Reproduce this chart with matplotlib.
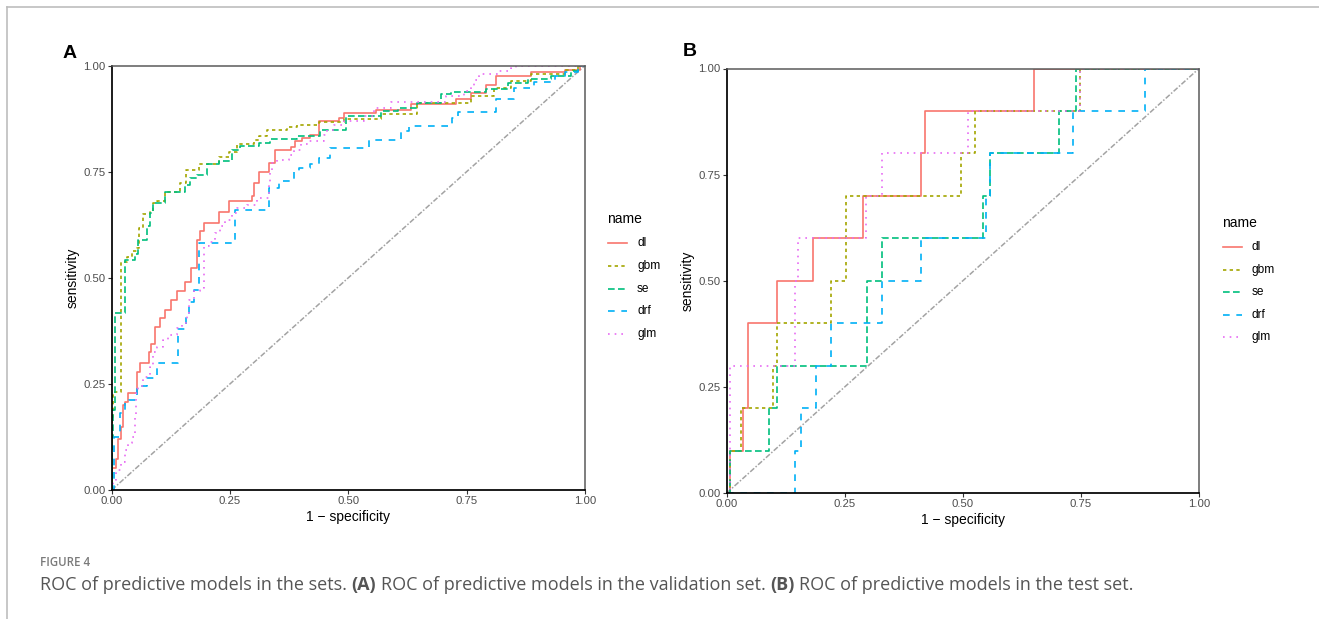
import matplotlib
matplotlib.use('Agg')
import matplotlib.pyplot as plt
from matplotlib.lines import Line2D

W, H, DPI = 1319, 619, 100

# ---------------- data ----------------
models = ['dl', 'gbm', 'se', 'drf', 'glm']
colors = {'dl': '#F8766D', 'gbm': '#A3A500', 'se': '#00BF7D', 'drf': '#00B0F6', 'glm': '#E76BF3'}
dash_styles = {'dl': None, 'gbm': (2, 2), 'se': (4, 2), 'drf': (4, 4), 'glm': (1, 3)}
tick_values = [0, 0.25, 0.5, 0.75, 1.0]
tick_labels = ['0.00', '0.25', '0.50', '0.75', '1.00']

# Panel A (validation set)
A_dl_fpr = [0, 0, 0.009, 0.014, 0.019, 0.023, 0.028, 0.035, 0.054, 0.060, 0.078, 0.083, 0.092, 0.102, 0.113,
            0.125, 0.139, 0.155, 0.167, 0.180, 0.186, 0.194, 0.226, 0.247, 0.297, 0.301, 0.311, 0.332, 0.346,
            0.378, 0.388, 0.403, 0.420, 0.438, 0.480, 0.491, 0.558, 0.632, 0.727, 0.759, 0.791, 0.812, 0.886,
            0.957, 0.990, 1.0]
A_dl_tpr = [0, 0.053, 0.073, 0.120, 0.149, 0.200, 0.208, 0.228, 0.279, 0.300, 0.326, 0.344, 0.385, 0.405, 0.423,
            0.448, 0.469, 0.491, 0.523, 0.590, 0.609, 0.629, 0.656, 0.680, 0.692, 0.723, 0.748, 0.770, 0.802,
            0.808, 0.821, 0.829, 0.837, 0.870, 0.877, 0.888, 0.894, 0.910, 0.920, 0.935, 0.955, 0.975, 0.985,
            0.990, 1.0, 1.0]

A_gbm_fpr = [0, 0, 0.003, 0.019, 0.032, 0.042, 0.053, 0.058, 0.066, 0.081, 0.088, 0.095, 0.113, 0.145, 0.157,
             0.184, 0.226, 0.247, 0.265, 0.300, 0.311, 0.328, 0.371, 0.392, 0.438, 0.491, 0.568, 0.646, 0.759,
             0.808, 0.844, 0.886, 0.957, 0.985, 1.0]
A_gbm_tpr = [0, 0.17, 0.23, 0.538, 0.550, 0.562, 0.570, 0.617, 0.649, 0.656, 0.675, 0.680, 0.701, 0.723, 0.753,
             0.769, 0.785, 0.796, 0.814, 0.825, 0.835, 0.847, 0.855, 0.861, 0.866, 0.873, 0.886, 0.912, 0.927,
             0.947, 0.963, 0.981, 0.990, 1.0, 1.0]

A_se_fpr = [0, 0, 0.002, 0.007, 0.028, 0.049, 0.056, 0.074, 0.081, 0.088, 0.113, 0.155, 0.166, 0.180, 0.201,
            0.226, 0.254, 0.272, 0.311, 0.335, 0.392, 0.441, 0.494, 0.568, 0.604, 0.646, 0.696, 0.717, 0.791,
            0.837, 0.879, 0.929, 0.971, 0.985, 1.0]
A_se_tpr = [0, 0.126, 0.189, 0.417, 0.542, 0.557, 0.590, 0.621, 0.653, 0.676, 0.701, 0.719, 0.735, 0.741, 0.767,
            0.774, 0.802, 0.810, 0.818, 0.827, 0.835, 0.849, 0.880, 0.892, 0.900, 0.912, 0.932, 0.937, 0.945,
            0.959, 0.969, 0.975, 0.987, 1.0, 1.0]

A_drf_fpr = [0, 0.004, 0.018, 0.028, 0.037, 0.053, 0.064, 0.074, 0.095, 0.141, 0.157, 0.164, 0.174, 0.184,
             0.261, 0.332, 0.353, 0.385, 0.395, 0.420, 0.438, 0.462, 0.544, 0.611, 0.628, 0.720, 0.731, 0.812,
             0.851, 0.893, 0.936, 0.957, 0.985, 1.0]
A_drf_tpr = [0, 0.125, 0.181, 0.208, 0.212, 0.240, 0.244, 0.263, 0.300, 0.379, 0.410, 0.444, 0.472, 0.582,
             0.660, 0.711, 0.729, 0.751, 0.759, 0.767, 0.782, 0.806, 0.825, 0.845, 0.858, 0.877, 0.890, 0.921,
             0.947, 0.960, 0.975, 0.985, 1.0, 1.0]

A_glm_fpr = [0, 0.002, 0.009, 0.019, 0.028, 0.035, 0.042, 0.049, 0.051, 0.056, 0.067, 0.080, 0.088, 0.095,
             0.108, 0.120, 0.139, 0.148, 0.159, 0.164, 0.173, 0.187, 0.196, 0.205, 0.219, 0.229, 0.240, 0.254,
             0.265, 0.286, 0.307, 0.332, 0.335, 0.339, 0.350, 0.374, 0.385, 0.399, 0.417, 0.448, 0.455, 0.470,
             0.491, 0.533, 0.554, 0.590, 0.706, 0.745, 0.759, 0.766, 0.777, 0.816, 0.844, 0.854, 1.0]
A_glm_tpr = [0, 0.024, 0.047, 0.067, 0.094, 0.110, 0.126, 0.173, 0.228, 0.244, 0.267, 0.289, 0.326, 0.338,
             0.354, 0.366, 0.381, 0.393, 0.417, 0.448, 0.468, 0.476, 0.574, 0.585, 0.605, 0.621, 0.637, 0.653,
             0.664, 0.672, 0.688, 0.723, 0.747, 0.770, 0.778, 0.788, 0.802, 0.814, 0.821, 0.837, 0.849, 0.861,
             0.869, 0.880, 0.900, 0.913, 0.927, 0.939, 0.951, 0.967, 0.981, 0.987, 0.994, 1.0, 1.0]

# Panel B (test set)
B_dl_fpr = [0, 0.006, 0.035, 0.046, 0.106, 0.183, 0.289, 0.412, 0.419, 0.650, 1.0]
B_dl_tpr = [0, 0.1, 0.2, 0.4, 0.5, 0.6, 0.7, 0.8, 0.9, 1.0, 1.0]

B_gbm_fpr = [0, 0.006, 0.030, 0.097, 0.106, 0.220, 0.252, 0.497, 0.526, 0.748, 1.0]
B_gbm_tpr = [0, 0.1, 0.2, 0.3, 0.4, 0.5, 0.7, 0.8, 0.9, 1.0, 1.0]

B_se_fpr = [0, 0.006, 0.090, 0.106, 0.297, 0.328, 0.543, 0.557, 0.703, 0.740, 1.0]
B_se_tpr = [0, 0.1, 0.2, 0.3, 0.5, 0.6, 0.7, 0.8, 0.9, 1.0, 1.0]

B_drf_fpr = [0, 0.144, 0.158, 0.190, 0.220, 0.328, 0.412, 0.550, 0.557, 0.734, 0.886, 1.0]
B_drf_tpr = [0, 0.1, 0.2, 0.3, 0.4, 0.5, 0.6, 0.7, 0.8, 0.9, 1.0, 1.0]

B_glm_fpr = [0, 0.006, 0.144, 0.151, 0.294, 0.328, 0.511, 0.747, 1.0]
B_glm_tpr = [0, 0.3, 0.5, 0.6, 0.7, 0.8, 0.9, 1.0, 1.0]

panel_A = {'dl': (A_dl_fpr, A_dl_tpr), 'gbm': (A_gbm_fpr, A_gbm_tpr), 'se': (A_se_fpr, A_se_tpr),
           'drf': (A_drf_fpr, A_drf_tpr), 'glm': (A_glm_fpr, A_glm_tpr)}
panel_B = {'dl': (B_dl_fpr, B_dl_tpr), 'gbm': (B_gbm_fpr, B_gbm_tpr), 'se': (B_se_fpr, B_se_tpr),
           'drf': (B_drf_fpr, B_drf_tpr), 'glm': (B_glm_fpr, B_glm_tpr)}

caption_head = 'FIGURE 4'
caption_pieces = [('ROC of predictive models in the sets.', False), ('(A)', True),
                  ('ROC of predictive models in the validation set.', False), ('(B)', True),
                  ('ROC of predictive models in the test set.', False)]

# ---------------- drawing ----------------
FONT = ['Liberation Sans', 'DejaVu Sans']
plt.rcParams['font.family'] = FONT

fig = plt.figure(figsize=(W / DPI, H / DPI), dpi=DPI)
fig.patch.set_facecolor('white')


def px_axes(left, top, right, bottom):
    return fig.add_axes([left / W, 1 - bottom / H, (right - left) / W, (bottom - top) / H])


def draw_panel(ax, data):
    ax.plot([0, 1], [0, 1], color='#A3A3A3', lw=1.1, dashes=(3.5, 1.2, 1, 1.2), zorder=1)
    for m in models:
        fpr, tpr = data[m]
        kw = dict(color=colors[m], lw=1.2, drawstyle='steps-post', zorder=2)
        if dash_styles[m]:
            kw['dashes'] = dash_styles[m]
        ax.plot(fpr, tpr, **kw)
    ax.set_xlim(0, 1)
    ax.set_ylim(0, 1)
    ax.set_xticks(tick_values)
    ax.set_xticklabels(tick_labels)
    ax.set_yticks(tick_values)
    ax.set_yticklabels(tick_labels)
    ax.tick_params(length=2.8, width=0.8, color='#333333', pad=1.5, labelsize=8.2, labelcolor='#4D4D4D')
    for s in ['left', 'bottom']:
        ax.spines[s].set_color('black')
        ax.spines[s].set_linewidth(1.25)
        ax.spines[s].set_zorder(4)
    for s in ['top', 'right']:
        ax.spines[s].set_color('#5A5A5A')
        ax.spines[s].set_linewidth(1.1)
        ax.spines[s].set_zorder(4)
    ax.set_xlabel('1 \u2212 specificity', fontsize=10, labelpad=3)
    ax.set_ylabel('sensitivity', fontsize=10, labelpad=3)


def draw_legend(x0, y_title, y_first, step):
    fig.text(x0 / W, 1 - y_title / H, 'name', fontsize=10, va='center', ha='left')
    for i, m in enumerate(models):
        y = y_first + i * step
        kw = dict(color=colors[m], lw=1.2, transform=fig.transFigure)
        if dash_styles[m]:
            kw['dashes'] = dash_styles[m]
        fig.add_artist(Line2D([(x0 + 1) / W, (x0 + 20) / W], [1 - y / H] * 2, **kw))
        fig.text((x0 + 30) / W, 1 - y / H, m, fontsize=8.6, va='center', ha='left')


axA = px_axes(111.7, 65.5, 585, 490)
draw_panel(axA, panel_A)
axB = px_axes(726.7, 68.5, 1199, 493)
draw_panel(axB, panel_B)

draw_legend(607, 219, 243, 22.8)
draw_legend(1222, 223, 247, 22.5)

fig.text(70 / W, 1 - 53.5 / H, 'A', fontsize=14, fontweight='bold', ha='center', va='center')
fig.text(690 / W, 1 - 51 / H, 'B', fontsize=14, fontweight='bold', ha='center', va='center')

# outer frame lines
fig.add_artist(Line2D([6.5 / W, 1], [1 - 6.5 / H] * 2, color='#BDBDBD', lw=1.2, transform=fig.transFigure))
fig.add_artist(Line2D([6.5 / W] * 2, [1 - 6.5 / H, 0], color='#BDBDBD', lw=1.2, transform=fig.transFigure))

# caption
CAP_FONT = ['Open Sans', 'DejaVu Sans']
renderer = fig.canvas.get_renderer()
fig.text(40 / W, 1 - 566 / H, caption_head, fontsize=8.3, color='#7A7A7A', family=CAP_FONT,
         fontweight='semibold', va='baseline', ha='left')


def text_width(s, size, bold):
    t = fig.text(0, 0, s, fontsize=size, family=CAP_FONT, fontweight='bold' if bold else 'normal')
    w = t.get_window_extent(renderer).width
    t.remove()
    return w


base = 11.0
space_w = text_width('x x', base, False) - text_width('xx', base, False)
total = sum(text_width(s, base, b) for s, b in caption_pieces) + space_w * (len(caption_pieces) - 1)
size = base * (1095 / total)
space_w = text_width('x x', size, False) - text_width('xx', size, False)
x = 40.0
for s, b in caption_pieces:
    t = fig.text(x / W, 1 - 590 / H, s, fontsize=size, family=CAP_FONT, color='#555555',
                 fontweight='bold' if b else 'normal', va='baseline', ha='left')
    x += t.get_window_extent(renderer).width + space_w

fig.savefig('out.png', dpi=DPI)
